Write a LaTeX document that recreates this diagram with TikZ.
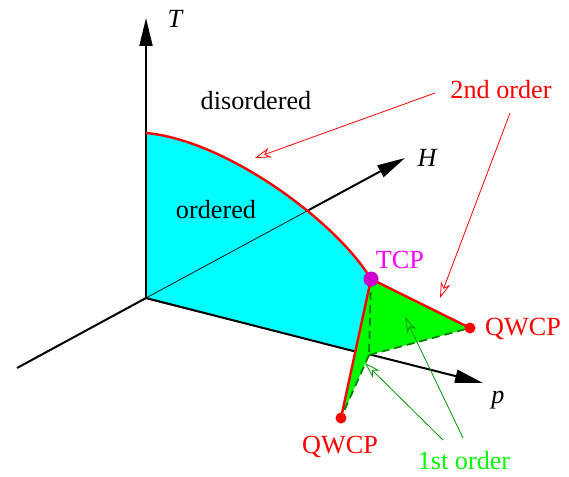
\documentclass[tikz,border=0pt]{standalone}
\usepackage{fontspec}
\setmainfont{Liberation Serif}
\usetikzlibrary{arrows.meta,intersections,calc}
\definecolor{cyanfill}{RGB}{0,255,255}
\definecolor{greenfill}{RGB}{0,255,0}
\definecolor{dgreen}{RGB}{0,130,0}
\definecolor{agreen}{RGB}{0,150,0}
\definecolor{tcpdot}{RGB}{204,0,204}
\definecolor{tcptext}{RGB}{255,0,255}
\begin{document}
\begin{tikzpicture}[x=1pt,y=-1pt,
  lbl/.style={font=\fontsize{26.2}{31}\selectfont, anchor=base, inner sep=0pt},
  axisline/.style={line width=2pt, black},
  axistip/.style={-{Triangle[length=28pt,width=13pt]}},
  thinax/.style={line width=0.7pt, black},
  redline/.style={line width=2.4pt, red},
  dashline/.style={line width=1.8pt, dgreen, dash pattern=on 8pt off 5pt},
  redarrow/.style={line width=0.8pt, red, -{Stealth[open,length=16pt,width=10pt,inset=5pt]}},
  greenarrow/.style={line width=0.8pt, agreen, -{Stealth[open,length=16pt,width=10pt,inset=5pt]}},
  dotnode/.style={circle, inner sep=0pt, draw=none}
]
\useasboundingbox (0,0) rectangle (569,476);
% key points
\coordinate (O) at (146,298);
\coordinate (Ttip) at (146,18);
\coordinate (Hneg) at (17,368);
\coordinate (Htip) at (405,158);
\coordinate (ptip) at (483,383);
\coordinate (Ttop) at (146,133);
\coordinate (D) at (369,355);
\node[dotnode, minimum size=15pt] (TCP) at (371,279) {};
\node[dotnode, minimum size=11pt] (Q1) at (470,328) {};
\node[dotnode, minimum size=11pt] (Q2) at (341,418) {};
\coordinate (X) at ($(TCP.center)!0.522!(Q2.center)$);
% axes (thick)
\draw[axisline, axistip] (O) -- (Ttip);
\draw[axisline] (Hneg) -- (O);
\draw[axisline, axistip, name path=haxis] (O) -- (Htip);
\draw[axisline, axistip] (O) -- (ptip);
% cyan ordered region
\fill[cyanfill] (O) -- (Ttop) .. controls (225,140) and (335,220) .. (TCP.center) -- (X) -- cycle;
\path[name path=curve] (Ttop) .. controls (225,140) and (335,220) .. (TCP.center);
\path[name intersections={of=haxis and curve, by=C}];
\draw[thinax] (O) -- (Ttop);
\draw[thinax] (O) -- (C);
\draw[axisline] (O) -- (X);
% green first-order region
\fill[greenfill] (TCP.center) -- (Q1.center) -- (D) -- (Q2.center) -- cycle;
\draw[dashline] (TCP.center) -- (D);
\draw[dashline] (D) -- (Q1.center);
\draw[dashline] (D) -- (Q2.center);
% red second-order lines
\draw[redline] (Ttop) .. controls (225,140) and (335,220) .. (TCP.center);
\draw[redline] (TCP.center) -- (Q1.center);
\draw[redline] (TCP.center) -- (Q2.center);
% dots
\fill[red] (Q1) circle (5.5pt);
\fill[red] (Q2) circle (5.5pt);
\fill[tcpdot] (TCP) circle (7.5pt);
% labels
\node[lbl] (lT) at (175,28) {\itshape T};
\node[lbl] (lH) at (427,166) {\itshape H};
\node[lbl] (lp) at (498,403) {\itshape p};
\node[lbl] (ldis) at (256,109) {disordered};
\node[lbl] (lord) at (216,218) {ordered};
\node[lbl, red] (l2nd) at (501,99) {2nd order};
\node[lbl, tcptext] (lTCP) at (400,268) {TCP};
\node[lbl, red] (lQ1) at (523,335) {QWCP};
\node[lbl, red] (lQ2) at (340,453) {QWCP};
\node[lbl, greenfill] (l1st) at (464,469) {1st order};
% annotation arrows
\coordinate (r1s) at (435,93);
\coordinate (r1e) at (255,158);
\coordinate (r2s) at (510,113);
\coordinate (r2e) at (440,298);
\coordinate (g1s) at (443,440);
\coordinate (g1e) at (365,363);
\coordinate (g2s) at (463,438);
\coordinate (g2e) at (405,317);
\draw[redarrow] (r1s) -- (r1e);
\draw[redarrow] (r2s) -- (r2e);
\draw[greenarrow] (g1s) -- (g1e);
\draw[greenarrow] (g2s) -- (g2e);
\end{tikzpicture}
\end{document}
